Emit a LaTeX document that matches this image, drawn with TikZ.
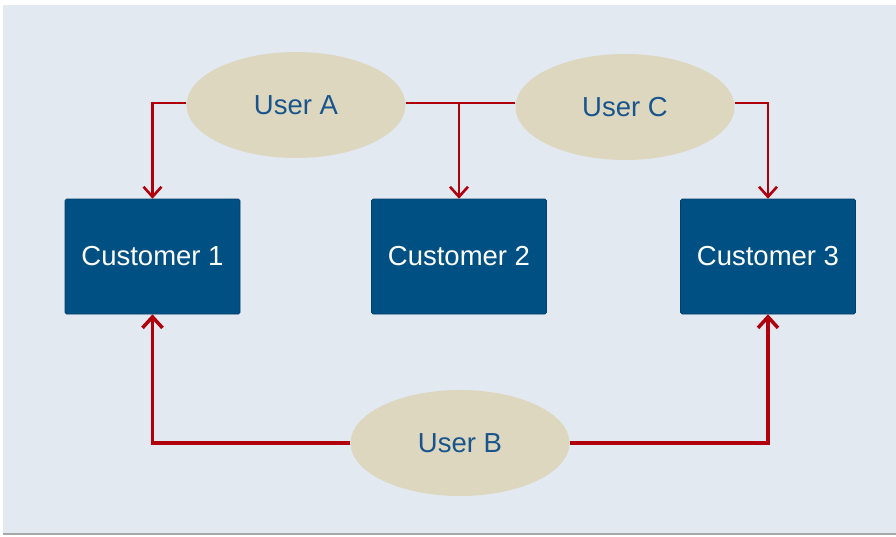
\documentclass[tikz,border=0pt]{standalone}
\usepackage{fontspec}
\setmainfont{Liberation Sans}
\usetikzlibrary{arrows.meta,shapes.geometric}
\definecolor{panel}{RGB}{227,233,241}
\definecolor{boxblue}{RGB}{0,80,132}
\definecolor{tan}{RGB}{220,215,190}
\definecolor{linered}{RGB}{176,0,12}
\definecolor{txtblue}{RGB}{25,85,140}
\begin{document}
\begin{tikzpicture}[x=1pt,y=-1pt,
  custbox/.style={draw=boxblue!80!black,line width=0.6pt,rounded corners=1.5pt,fill=boxblue,minimum width=175pt,minimum height=115pt,inner sep=0pt,text=white,font=\fontsize{27.5}{32}\selectfont},
  userell/.style={ellipse,fill=tan,minimum width=219pt,minimum height=106pt,inner sep=0pt,text=txtblue,font=\fontsize{27.5}{32}\selectfont},
  thinlink/.style={draw=linered,line width=2.9pt,-{Straight Barb[length=10pt,width=18pt,line width=2.6pt]}},
  thicklink/.style={draw=linered,line width=3.8pt,-{Straight Barb[length=11pt,width=20pt,line width=3.5pt]}},
  plainlink/.style={draw=linered,line width=2.9pt}]
\useasboundingbox (0,0) rectangle (896,536);
\fill[white] (0,0) rectangle (896,536);
\fill[panel] (3,5) rectangle (896,533);
\draw[gray!70,line width=1.5pt] (3,534) -- (896,534);
\node[custbox] (c1) at (152.5,256.5) {Customer 1};
\node[custbox] (c2) at (459,256.5) {Customer 2};
\node[custbox] (c3) at (768,256.5) {Customer 3};
\node[userell] (ua) at (296,105) {User A};
\node[userell] (uc) at (625,107) {User C};
\node[userell] (ub) at (460,443) {User B};
\coordinate (j) at (459,103);
\draw[thinlink] (ua.west |- 0,103) -| (c1.north);
\draw[plainlink] (ua.east |- 0,103) -- (uc.west |- 0,103);
\draw[thinlink] (j) -- (c2.north);
\draw[thinlink] (uc.east |- 0,103) -| (c3.north);
\draw[thicklink] (ub.west) -| (c1.south);
\draw[thicklink] (ub.east) -| (c3.south);
\end{tikzpicture}
\end{document}
